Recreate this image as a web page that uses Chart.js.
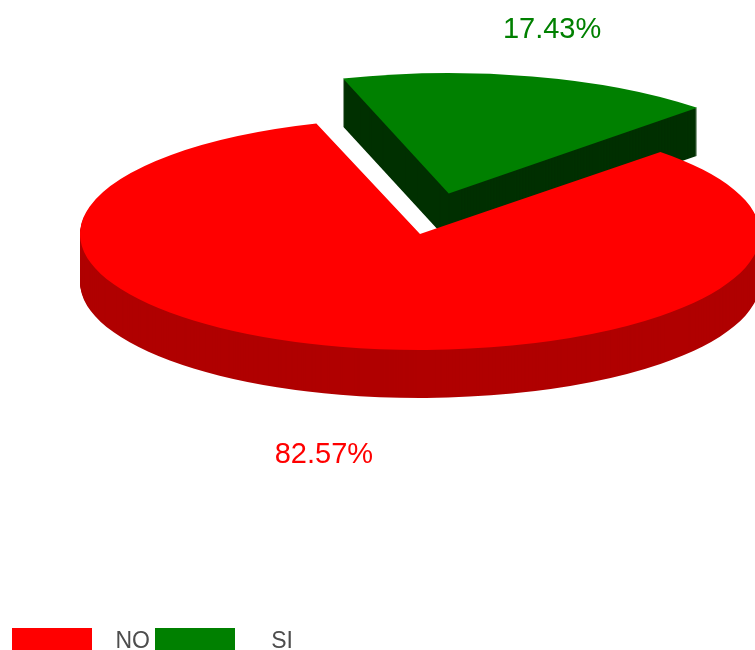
<!DOCTYPE html>
<html>
<head>
<meta charset="utf-8">
<script src="https://cdn.jsdelivr.net/npm/chart.js@4/dist/chart.umd.min.js"></script>
<style>
  html, body { margin: 0; padding: 0; background: #ffffff; }
  #wrap { width: 755px; height: 650px; position: relative; }
</style>
</head>
<body>
<div id="wrap"><canvas id="pie" width="755" height="650"></canvas></div>
<script>
// Survey answers
const categories = ['NO', 'SI'];
const shares = [82.57, 17.43];
const topColors = ['#ff0000', '#008000'];
const sideColors = ['#b00000', '#003000'];
const explode = [0, 488];

// Tilted pie look
const TILT = 0.341;      // vertical squash of the disc
const DEPTH = 48;        // thickness of the disc in px
const RADIUS = 340;

function arcShift(arc) {
  // same displacement Chart.js applies for an arc's `offset`
  const o = (arc.options.offset || 0) / 4;
  const fix = 1 - Math.sin(Math.min(Math.PI, arc.circumference || 0));
  return o * (1 + fix);
}

const tiltedPie = {
  id: 'tiltedPie',
  beforeDatasetsDraw(chart) {
    const ctx = chart.ctx;
    const arcs = chart.getDatasetMeta(0).data;
    const cx = arcs[0].x, cy = arcs[0].y;
    const mid = a => (a.startAngle + a.endAngle) / 2;
    // back slices first, front slices last
    const order = arcs.map((a, i) => i).sort((i, j) => Math.sin(mid(arcs[i])) - Math.sin(mid(arcs[j])));
    ctx.save();
    ctx.translate(cx, cy);
    ctx.scale(1, TILT);
    ctx.translate(-cx, -cy);
    for (const i of order) {
      const arc = arcs[i];
      const side = Object.create(arc);
      side.options = Object.assign({}, arc.options, { backgroundColor: sideColors[i], borderWidth: 0 });
      for (let d = DEPTH; d > 0; d--) {
        ctx.save();
        ctx.translate(0, d / TILT);
        side.draw(ctx);
        ctx.restore();
      }
      arc.draw(ctx);
    }
    ctx.restore();
    return false;
  },
  afterDraw(chart) {
    const ctx = chart.ctx;
    const arcs = chart.getDatasetMeta(0).data;
    const values = chart.data.datasets[0].data;
    const total = values.reduce((s, v) => s + v, 0);

    // percentage labels outside each slice
    ctx.save();
    ctx.font = '29px "Liberation Sans", Arial, sans-serif';
    ctx.textAlign = 'center';
    ctx.textBaseline = 'middle';
    arcs.forEach((arc, i) => {
      const m = (arc.startAngle + arc.endAngle) / 2;
      const s = arcShift(arc);
      const ex = arc.x + Math.cos(m) * s;
      const ey = arc.y + Math.sin(m) * s * TILT;
      const front = Math.sin(m) > 0;
      const x = ex + Math.cos(m) * arc.outerRadius * (front ? 1.2 : 1.25);
      const y = ey + Math.sin(m) * (arc.outerRadius * TILT + (front ? 62 : 48)) + (front ? DEPTH : 0);
      ctx.fillStyle = topColors[i];
      ctx.fillText((values[i] / total * 100).toFixed(2) + '%', x, y);
    });
    ctx.restore();

    // legend row along the bottom edge
    ctx.save();
    ctx.font = '23px "Liberation Sans", Arial, sans-serif';
    ctx.textAlign = 'right';
    ctx.textBaseline = 'alphabetic';
    chart.data.labels.forEach((label, i) => {
      const x0 = 12 + i * 143;
      ctx.fillStyle = topColors[i];
      ctx.fillRect(x0, 628, 80, 24);
      ctx.fillStyle = '#4d4d4d';
      ctx.fillText(label, x0 + 138, 648);
    });
    ctx.restore();
  }
};

new Chart(document.getElementById('pie'), {
  type: 'pie',
  data: {
    labels: categories,
    datasets: [{
      data: shares,
      backgroundColor: topColors,
      borderWidth: 0,
      offset: explode,
      clip: false
    }]
  },
  options: {
    responsive: false,
    animation: false,
    rotation: 45,
    radius: RADIUS,
    cutout: '0%',
    layout: { padding: { left: 85, right: 0, top: 0, bottom: 182 } },
    plugins: {
      legend: { display: false },
      tooltip: { enabled: false }
    },
    events: []
  },
  plugins: [tiltedPie]
});
</script>
</body>
</html>
